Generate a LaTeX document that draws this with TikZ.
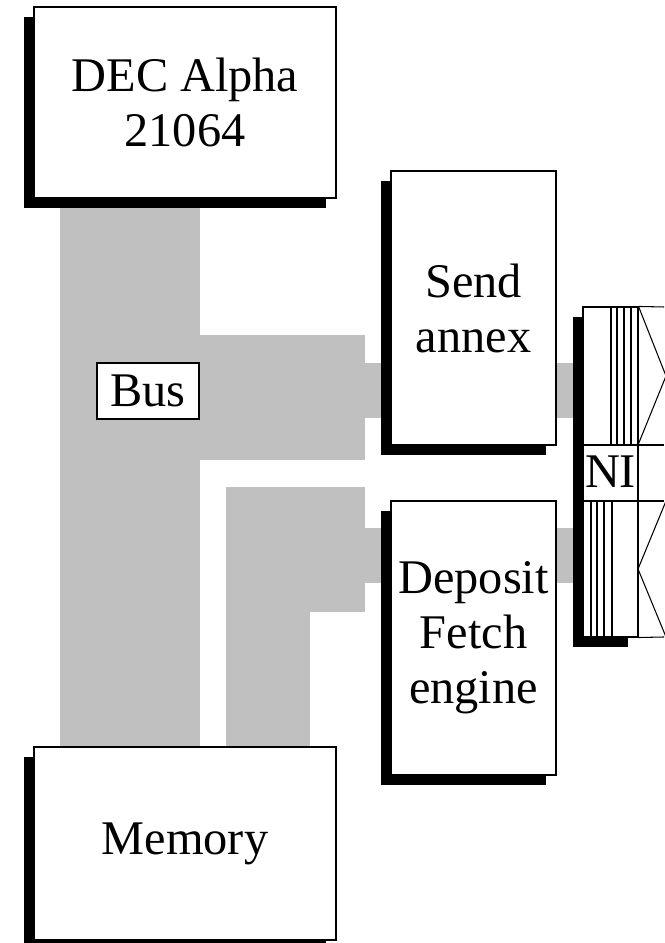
\documentclass[tikz,border=0pt]{standalone}
\usepackage{fontspec}
\setmainfont{Liberation Serif}
\usetikzlibrary{backgrounds}
\usetikzlibrary{shadows}
\definecolor{busgray}{HTML}{C0C0C0}

\tikzset{
  box/.style={draw, fill=white, line width=0.6pt, inner sep=0pt, align=center,
    font=\fontsize{27.5}{31.3}\selectfont,
    general shadow={fill=black, shadow xshift=-0.21cm, shadow yshift=-0.2cm}},
  bus link/.style={draw=busgray, line width=1.1cm},
  ni line/.style={line width=0.6pt}
}

\begin{document}
\begin{tikzpicture}

    \useasboundingbox (0,0) rectangle (13.28,18.86);

    \draw (3.70,16.81)
		node[box, minimum width=6.04cm, minimum height=3.82cm]
			(DEC Alpha) {DEC Alpha\\21064};

    \draw (3.70,1.99)
		node[box, minimum width=6.04cm, minimum height=3.86cm]
			(Memory) {Memory};

    \draw (9.47,12.70)
		node[box, minimum width=3.30cm, minimum height=5.48cm]
			(Send annex) {Send\\annex};

    \draw (9.47,6.10)
		node[box, minimum width=3.30cm, minimum height=5.48cm]
			(Deposit Fetch) {Deposit\\Fetch\\engine};

    \draw (12.21,9.42)
		node[box, minimum width=1.10cm, minimum height=6.60cm]
			(NI) {NI};

    \draw (2.96,11.04)
		node[draw, fill=white, line width=0.6pt, inner sep=0pt, minimum width=2.04cm, minimum height=1.12cm,
			font=\fontsize{27.5}{31.3}\selectfont]
			(Bus) {Bus};

	% NI inner lines
	\draw[ni line] (NI.west |- 0,9.96) -- (13.28,9.96);
	\draw[ni line] (NI.west |- 0,8.84) -- (13.28,8.84);
	\draw[ni line] (NI.north east) -- (13.28,12.72);
	\draw[ni line] (NI.south east) -- (13.28,6.12);
	\foreach \x in {12.22,12.34,12.48,12.62}
		\draw[ni line] (\x,9.96) -- (\x,12.72);
	\foreach \x in {11.82,11.94,12.08,12.24}
		\draw[ni line] (\x,6.12) -- (\x,8.84);
	\draw[ni line] (NI.north east) -- (13.32,11.34) -- (12.76,9.96);
	\draw[ni line] (13.32,8.84) -- (12.76,7.48) -- (13.32,6.12);

	% bus
	\begin{scope}[on background layer]
		\fill[busgray] (1.20,3.92) rectangle (4.00,14.90);
		\fill[busgray] (4.00,9.66) rectangle (7.30,12.16);
		\fill[busgray] (4.52,3.92) rectangle (6.20,9.12);
		\fill[busgray] (4.52,6.62) rectangle (7.30,9.12);

		\coordinate (send in) at (7.30,11.05);
		\coordinate (deposit in) at (7.30,7.75);
		\coordinate (send out) at ([yshift=-1.65cm]Send annex.east);
		\coordinate (deposit out) at ([yshift=1.65cm]Deposit Fetch.east);

		\draw[bus link] (send in) -- (send in -| Send annex.west);
		\draw[bus link] (deposit in) -- (deposit in -| Deposit Fetch.west);
		\draw[bus link] (send out) -- (send out -| NI.west);
		\draw[bus link] (deposit out) -- (deposit out -| NI.west);
	\end{scope}

\end{tikzpicture}
\end{document}
